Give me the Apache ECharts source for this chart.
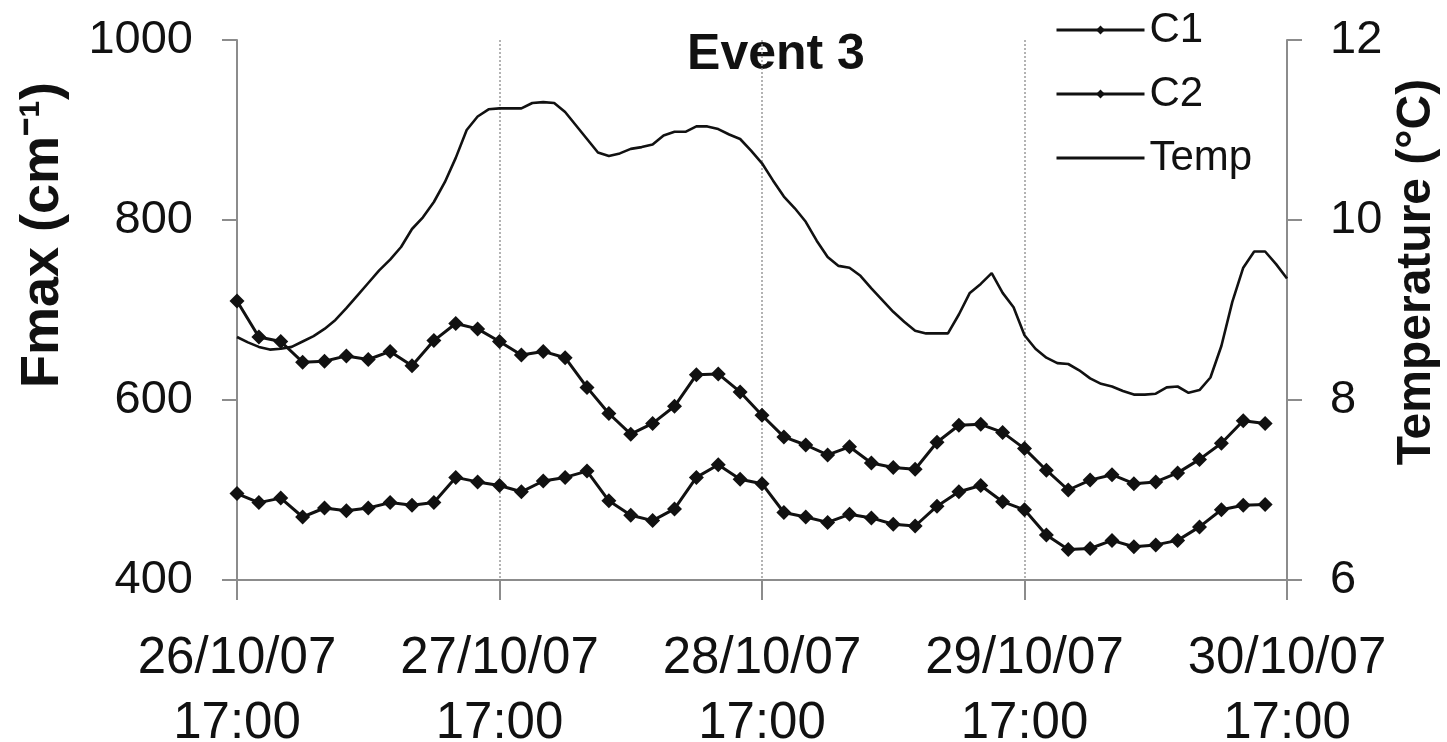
<!DOCTYPE html>
<html>
<head>
<meta charset="utf-8">
<script src="https://cdn.jsdelivr.net/npm/echarts@6/dist/echarts.min.js"></script>
<style>
  html, body { margin: 0; padding: 0; background: #fff; }
  #chart { width: 1447px; height: 742px; }
</style>
</head>
<body>
<div id="chart"></div>
<script>
// Hours since 26/10/07 17:00; one day = 24 h
const dayTickLabels = ['26/10/07\n17:00', '27/10/07\n17:00', '28/10/07\n17:00', '29/10/07\n17:00', '30/10/07\n17:00'];

// Fmax samples, every 2 hours from 26/10/07 17:00
const sampleHours = [0, 2, 4, 6, 8, 10, 12, 14, 16, 18, 20, 22, 24, 26, 28, 30, 32, 34, 36, 38, 40, 42, 44, 46,
  48, 50, 52, 54, 56, 58, 60, 62, 64, 66, 68, 70, 72, 74, 76, 78, 80, 82, 84, 86, 88, 90, 92, 94];
const c1Values = [710, 670, 665, 642, 643, 649, 645, 654, 638, 666, 685, 679, 665, 650, 654, 647, 614, 585, 562, 574,
  593, 628, 629, 609, 583, 559, 550, 539, 548, 530, 525, 523, 553, 572, 573, 564, 546, 522, 500, 511, 517, 507, 509,
  519, 534, 552, 577, 574];
const c2Values = [496, 486, 491, 470, 480, 477, 480, 486, 483, 486, 514, 509, 505, 498, 510, 514, 521, 488, 472, 466,
  479, 514, 528, 512, 507, 475, 470, 464, 473, 469, 462, 460, 482, 498, 505, 487, 478, 450, 434, 435, 444, 437, 439,
  444, 459, 478, 483, 484];

// Hourly water temperature (°C), hour 0 .. 96
const tempValues = [8.70, 8.64, 8.59, 8.56, 8.57, 8.59, 8.65, 8.71, 8.79, 8.89, 9.02, 9.16, 9.30, 9.44, 9.56, 9.70,
  9.90, 10.03, 10.20, 10.42, 10.69, 11.00, 11.15, 11.23, 11.24, 11.24, 11.24, 11.30, 11.31, 11.30, 11.20, 11.05,
  10.90, 10.75, 10.71, 10.74, 10.79, 10.81, 10.84, 10.94, 10.98, 10.98, 11.04, 11.04, 11.01, 10.95, 10.90, 10.77,
  10.63, 10.44, 10.26, 10.13, 9.98, 9.77, 9.59, 9.49, 9.47, 9.38, 9.24, 9.11, 8.98, 8.87, 8.77, 8.74, 8.74, 8.74,
  8.95, 9.19, 9.29, 9.41, 9.19, 9.03, 8.72, 8.57, 8.47, 8.41, 8.40, 8.33, 8.24, 8.18, 8.15, 8.10, 8.06, 8.06, 8.07,
  8.14, 8.15, 8.08, 8.11, 8.25, 8.60, 9.09, 9.47, 9.65, 9.65, 9.51, 9.35];

const c1Data = sampleHours.map((h, i) => [h, c1Values[i]]);
const c2Data = sampleHours.map((h, i) => [h, c2Values[i]]);
const tempData = tempValues.map((v, h) => [h, v]);

const FONT = '"Liberation Sans", Arial, sans-serif';
const axisGray = '#8c8c8c';
const ink = '#111';

const chart = echarts.init(document.getElementById('chart'), null, { renderer: 'canvas' });
chart.setOption({
  animation: false,
  backgroundColor: '#fff',
  textStyle: { fontFamily: FONT },
  grid: { left: 237, right: 160, top: 40, bottom: 162, containLabel: false, outerBoundsMode: 'none' },
  legend: {
    orient: 'vertical',
    left: 1050,
    top: 4,
    itemWidth: 88,
    itemHeight: 11,
    itemGap: 22,
    lineStyle: { width: 3 },
    data: [
      { name: 'C1' },
      { name: 'C2' },
      { name: 'Temp', itemStyle: { opacity: 0 } }
    ],
    textStyle: { fontSize: 42, color: ink, fontFamily: FONT }
  },
  graphic: [
    {
      type: 'text', position: [776, 55],
      style: { text: 'Event 3', font: 'bold 50px ' + FONT, fill: ink, align: 'center', verticalAlign: 'middle' }
    },
    {
      type: 'text', position: [43, 235], rotation: Math.PI / 2,
      style: { text: 'Fmax (cm⁻¹)', font: 'bold 54px ' + FONT, fill: ink, align: 'center', verticalAlign: 'middle' }
    },
    {
      type: 'text', position: [1417, 272], rotation: Math.PI / 2,
      style: { text: 'Temperature (°C)', font: 'bold 48px ' + FONT, fill: ink, align: 'center', verticalAlign: 'middle' }
    }
  ],
  xAxis: {
    type: 'value', min: 0, max: 96, interval: 24,
    axisLine: { show: true, lineStyle: { color: axisGray, width: 2 } },
    axisTick: { show: true, inside: false, length: 20, lineStyle: { color: axisGray, width: 2 } },
    axisLabel: {
      margin: 46, fontSize: 51, lineHeight: 65, color: ink, fontFamily: FONT,
      formatter: v => dayTickLabels[Math.round(v / 24)] || ''
    },
    splitLine: { show: true, showMinLine: false, showMaxLine: false, lineStyle: { color: '#9a9a9a', width: 1.5, type: [2, 2] } }
  },
  yAxis: [
    {
      type: 'value', min: 400, max: 1000, interval: 200, position: 'left',
      axisLine: { show: true, lineStyle: { color: axisGray, width: 2 } },
      axisTick: { show: true, length: 15, lineStyle: { color: axisGray, width: 2 } },
      axisLabel: { margin: 44, fontSize: 47, color: ink, fontFamily: FONT, formatter: v => String(v) },
      splitLine: { show: false }
    },
    {
      type: 'value', min: 6, max: 12, interval: 2, position: 'right',
      axisLine: { show: true, lineStyle: { color: axisGray, width: 2 } },
      axisTick: { show: true, length: 15, lineStyle: { color: axisGray, width: 2 } },
      axisLabel: { margin: 43, fontSize: 47, color: ink, fontFamily: FONT, formatter: v => String(v) },
      splitLine: { show: false }
    }
  ],
  series: [
    {
      name: 'C1', type: 'line', yAxisIndex: 0, data: c1Data,
      symbol: 'diamond', symbolSize: 15, showSymbol: true,
      lineStyle: { color: ink, width: 3 }, itemStyle: { color: ink }
    },
    {
      name: 'C2', type: 'line', yAxisIndex: 0, data: c2Data,
      symbol: 'diamond', symbolSize: 15, showSymbol: true,
      lineStyle: { color: ink, width: 3 }, itemStyle: { color: ink }
    },
    {
      name: 'Temp', type: 'line', yAxisIndex: 1, data: tempData,
      symbol: 'none', showSymbol: false,
      lineStyle: { color: ink, width: 2.6 }, itemStyle: { color: ink }
    }
  ]
});
</script>
</body>
</html>
